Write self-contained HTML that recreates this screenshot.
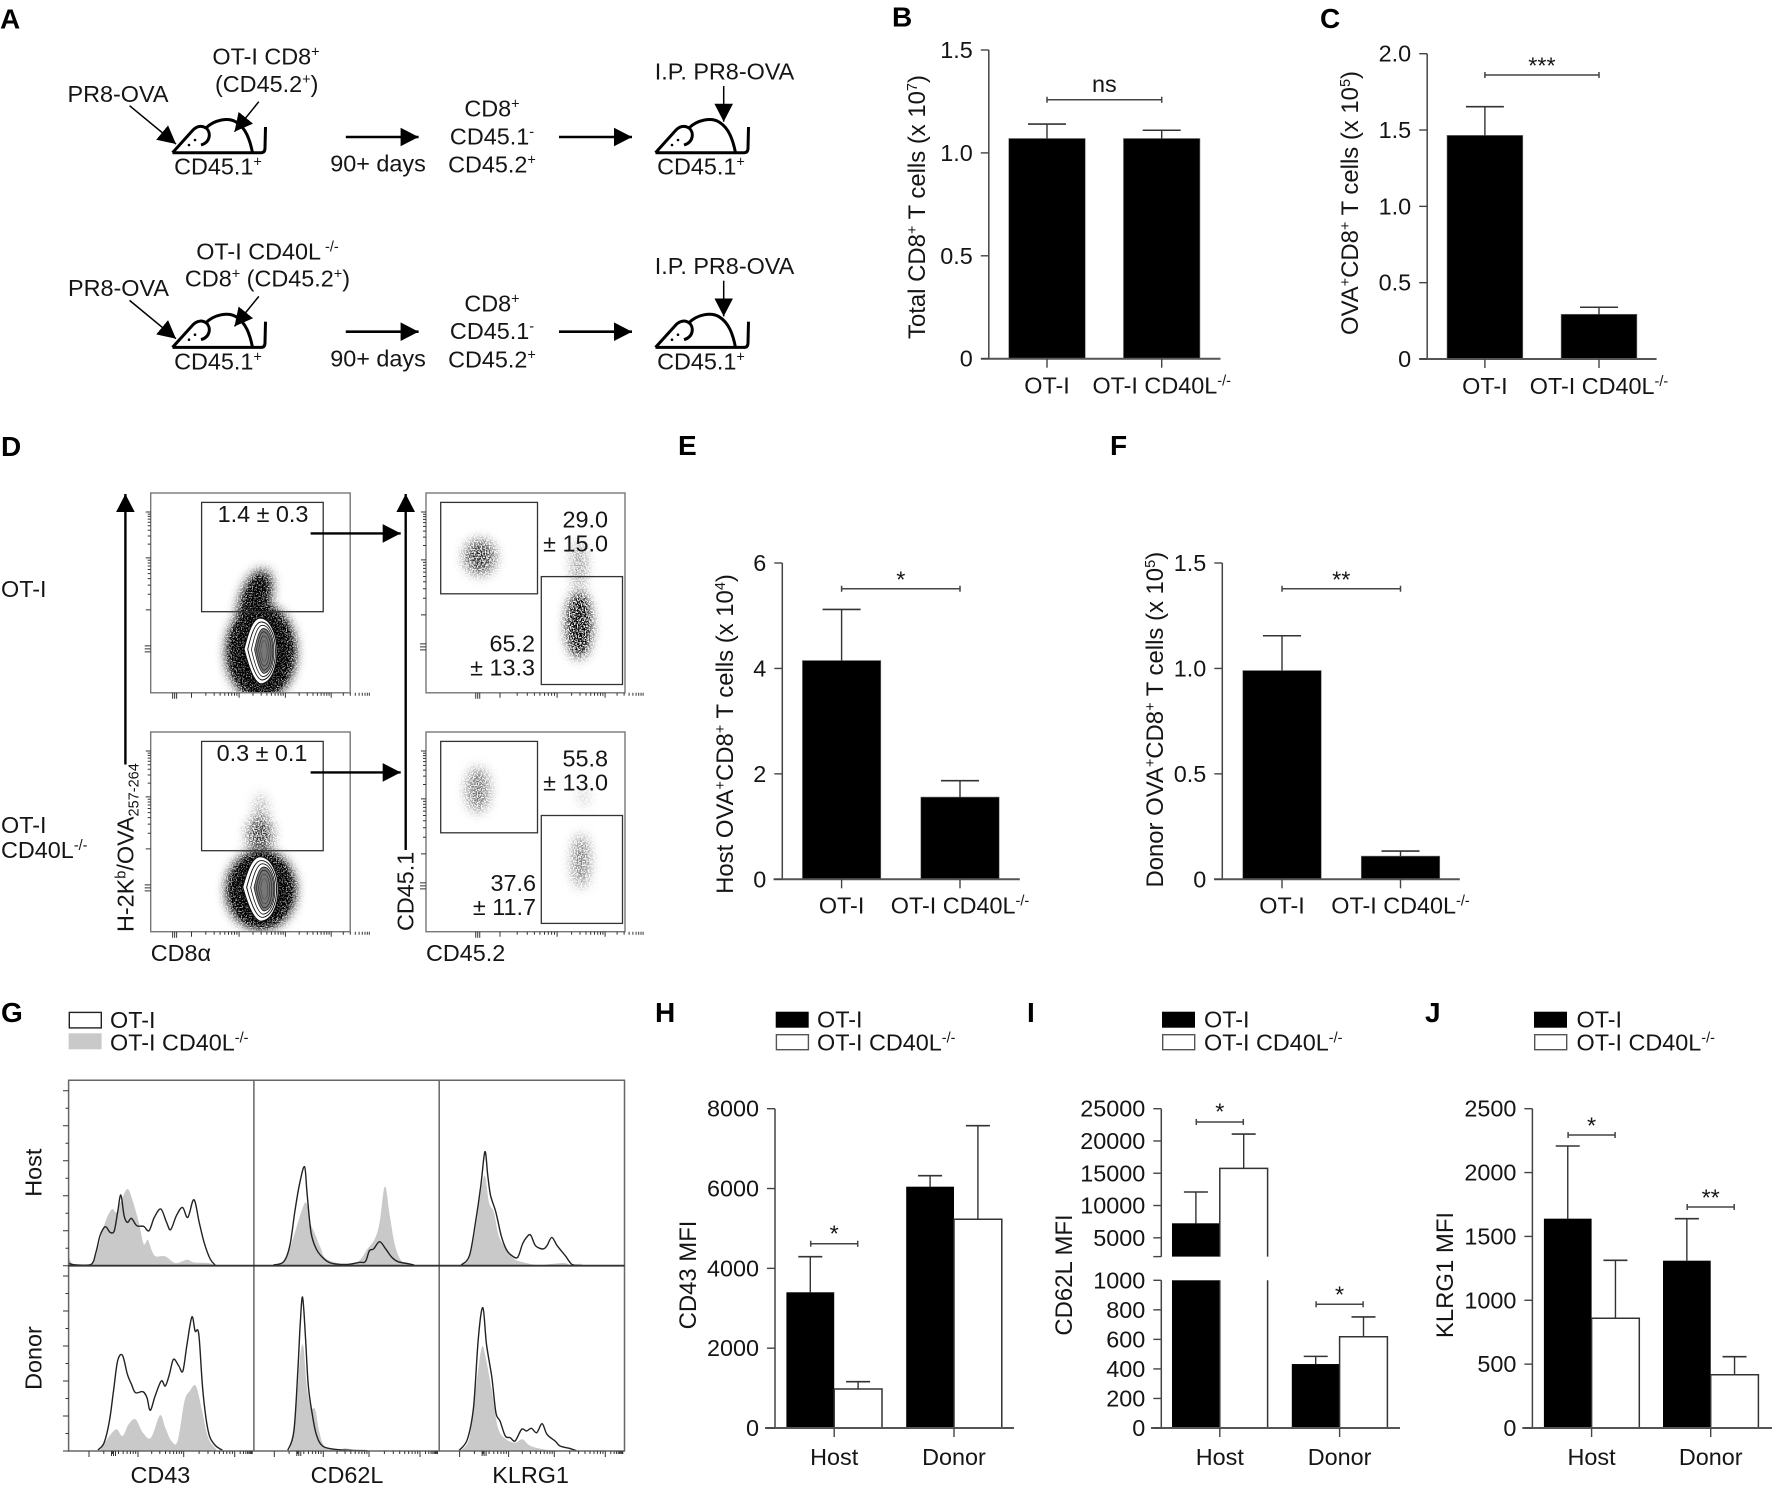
<!DOCTYPE html>
<html lang="en">
<head>
<meta charset="utf-8">
<title>OT-I versus OT-I CD40L-/- figure</title>
<style>
html,body{margin:0;padding:0;background:#fff;width:1772px;height:1490px;overflow:hidden}
svg{display:block}
text{font-family:"Liberation Sans",Arial,sans-serif;font-size:23.4px;fill:#151515}
.letter{font-size:28px;font-weight:700;fill:#000}
.m{text-anchor:middle}
.e{text-anchor:end}
.s{font-size:14.5px}
</style>
</head>
<body>
<svg id="figure" xmlns="http://www.w3.org/2000/svg" width="1772" height="1490" viewBox="0 0 1772 1490">
<defs>
  <marker id="head" markerUnits="userSpaceOnUse" markerWidth="20" markerHeight="22" refX="18" refY="10" orient="auto">
    <path d="M0,0.7 L18,10 L0,19.3 Z" fill="#000"/>
  </marker>
  <filter id="grain" x="-40%" y="-40%" width="180%" height="180%">
    <feGaussianBlur in="SourceGraphic" stdDeviation="6" result="b"/>
    <feTurbulence type="fractalNoise" baseFrequency="0.8" numOctaves="2" seed="4" result="n"/>
    <feColorMatrix in="n" type="matrix" values="0 0 0 0 0  0 0 0 0 0  0 0 0 0 0  0 0 0 5 -1.8" result="k"/>
    <feComposite in="b" in2="k" operator="arithmetic" k1="1.3" k2="0.42" k3="0" k4="0"/>
  </filter>
  <filter id="scatter" x="-60%" y="-60%" width="220%" height="220%">
    <feGaussianBlur in="SourceGraphic" stdDeviation="6" result="b"/>
    <feTurbulence type="fractalNoise" baseFrequency="0.75" numOctaves="2" seed="9" result="n"/>
    <feColorMatrix in="n" type="matrix" values="0 0 0 0 0  0 0 0 0 0  0 0 0 0 0  0 0 0 6 -2.4" result="k"/>
    <feComposite in="b" in2="k" operator="arithmetic" k1="1.45" k2="0.05" k3="0" k4="0"/>
  </filter>
  <clipPath id="clip-tl"><rect x="150.7" y="493" width="199.5" height="199.8"/></clipPath>
  <clipPath id="clip-bl"><rect x="150.7" y="732" width="199.5" height="199.7"/></clipPath>
  <g id="mouse">
    <path d="M172.5,152.7 L193,130 C198,125 203,126 206,128 C214,120 228,117 236,122 C246,128 250,140 252.5,152.7 M206,128 C211,132 211,142 201,145 M172.5,152.7 H261 Q265,152.7 265,148 L265.5,127" fill="none" stroke="#000" stroke-width="3" stroke-linejoin="round"/>
    <circle cx="189" cy="145" r="1.3" fill="#000"/><circle cx="195" cy="140" r="1.3" fill="#000"/>
  </g>
  <g id="contour-stack">
    <path id="contour" d="M-1,-33 C10,-33 16,-15 16,0 C16,18 10,32 0,33 C-8,32 -14,10 -17,-2 C-14,-14 -9,-33 -1,-33 Z" fill="#fff" stroke="#111" stroke-width="1.2"/>
    <g fill="none" stroke="#111" stroke-width="1.1">
      <path transform="translate(1,0) scale(.84,.88)" d="M-1,-33 C10,-33 16,-15 16,0 C16,18 10,32 0,33 C-8,32 -14,10 -17,-2 C-14,-14 -9,-33 -1,-33 Z"/>
      <path transform="translate(2,0) scale(.68,.78)" d="M-1,-33 C10,-33 16,-15 16,0 C16,18 10,32 0,33 C-8,32 -14,10 -17,-2 C-14,-14 -9,-33 -1,-33 Z"/>
      <path transform="translate(3,0) scale(.56,.68)" fill="#777" d="M-1,-33 C10,-33 16,-15 16,0 C16,18 10,32 0,33 C-8,32 -14,10 -17,-2 C-14,-14 -9,-33 -1,-33 Z"/>
      <path transform="translate(3,0) scale(.44,.58)" d="M-1,-33 C10,-33 16,-15 16,0 C16,18 10,32 0,33 C-8,32 -14,10 -17,-2 C-14,-14 -9,-33 -1,-33 Z"/>
      <path transform="translate(3,0) scale(.32,.46)" d="M-1,-33 C10,-33 16,-15 16,0 C16,18 10,32 0,33 C-8,32 -14,10 -17,-2 C-14,-14 -9,-33 -1,-33 Z"/>
      <path transform="translate(3,0) scale(.2,.32)" d="M-1,-33 C10,-33 16,-15 16,0 C16,18 10,32 0,33 C-8,32 -14,10 -17,-2 C-14,-14 -9,-33 -1,-33 Z"/>
    </g>
  </g>
</defs>

<g>
  <text class="letter" x="0" y="28.3">A</text>
  <text class="letter" x="892" y="26.5">B</text>
  <text class="letter" x="1320" y="28">C</text>
  <text class="letter" x="1" y="456">D</text>
  <text class="letter" x="678" y="455">E</text>
  <text class="letter" x="1110" y="455">F</text>
  <text class="letter" x="1" y="1022">G</text>
  <text class="letter" x="655" y="1022">H</text>
  <text class="letter" x="1027" y="1022">I</text>
  <text class="letter" x="1425" y="1022">J</text>
</g>

<!-- Panel A -->
<g>
  <g id="schema-common">
    <use href="#mouse"/>
    <use href="#mouse" transform="translate(483,0)"/>
    <g fill="none" stroke="#000">
      <path d="M127,109 L176,144" stroke-width="1.5" marker-end="url(#head)" transform="rotate(4 176 144)"/>
      <path d="M258.8,101.7 L234.5,131.7" stroke-width="1.5" marker-end="url(#head)"/>
      <path d="M345.8,137 H418.6" stroke-width="2.6" marker-end="url(#head)"/>
      <path d="M559,137 H632" stroke-width="2.6" marker-end="url(#head)"/>
      <path d="M723.7,86 V121.7" stroke-width="1.5" marker-end="url(#head)"/>
    </g>
    <text class="m" x="218" y="174.7">CD45.1<tspan class="s" dy="-8">+</tspan></text>
    <text class="m" x="378" y="171.7">90+ days</text>
    <text class="m" x="492" y="116.7">CD8<tspan class="s" dy="-8">+</tspan></text>
    <text class="m" x="492" y="144.3">CD45.1<tspan class="s" dy="-8">-</tspan></text>
    <text class="m" x="492" y="172.7">CD45.2<tspan class="s" dy="-8">+</tspan></text>
    <text class="m" x="724.5" y="79.3">I.P. PR8-OVA</text>
    <text class="m" x="701" y="174.7">CD45.1<tspan class="s" dy="-8">+</tspan></text>
  </g>
  <text class="m" x="266" y="64.7">OT-I CD8<tspan class="s" dy="-8">+</tspan></text>
  <text class="m" x="266.7" y="92">(CD45.2<tspan class="s" dy="-8">+</tspan><tspan dy="8">)</tspan></text>
  <text class="m" x="118" y="102">PR8-OVA</text>

  <g transform="translate(0,194.7)">
    <use href="#mouse"/>
    <use href="#mouse" transform="translate(483,0)"/>
    <g fill="none" stroke="#000">
      <path d="M127,109 L176,144" stroke-width="1.5" marker-end="url(#head)" transform="rotate(4 176 144)"/>
      <path d="M258.8,101.7 L234.5,131.7" stroke-width="1.5" marker-end="url(#head)"/>
      <path d="M345.8,137 H418.6" stroke-width="2.6" marker-end="url(#head)"/>
      <path d="M559,137 H632" stroke-width="2.6" marker-end="url(#head)"/>
      <path d="M723.7,86 V121.7" stroke-width="1.5" marker-end="url(#head)"/>
    </g>
    <text class="m" x="218" y="174.7">CD45.1<tspan class="s" dy="-8">+</tspan></text>
    <text class="m" x="378" y="171.7">90+ days</text>
    <text class="m" x="492" y="116.7">CD8<tspan class="s" dy="-8">+</tspan></text>
    <text class="m" x="492" y="144.3">CD45.1<tspan class="s" dy="-8">-</tspan></text>
    <text class="m" x="492" y="172.7">CD45.2<tspan class="s" dy="-8">+</tspan></text>
    <text class="m" x="724.5" y="79.3">I.P. PR8-OVA</text>
    <text class="m" x="701" y="174.7">CD45.1<tspan class="s" dy="-8">+</tspan></text>
  </g>
  <text class="m" x="267.5" y="259.3">OT-I CD40L<tspan class="s" dy="-8"> -/-</tspan></text>
  <text class="m" x="267.5" y="286.7">CD8<tspan class="s" dy="-8">+</tspan><tspan dy="8"> (CD45.2</tspan><tspan class="s" dy="-8">+</tspan><tspan dy="8">)</tspan></text>
  <text class="m" x="118.5" y="296">PR8-OVA</text>
</g>

<!-- Panel D -->
<g>
  <g clip-path="url(#clip-tl)">
    <g filter="url(#grain)">
      <ellipse cx="261" cy="652" rx="33" ry="46" fill="#000"/>
      <ellipse cx="255" cy="600" rx="13" ry="30" transform="rotate(18 255 600)" fill="#000" opacity=".9"/>
    </g>
    <use href="#contour-stack" transform="translate(261,651)"/>
  </g>
  <g clip-path="url(#clip-bl)">
    <g filter="url(#grain)">
      <ellipse cx="261" cy="890" rx="33" ry="38" fill="#000"/>
    </g>
    <g filter="url(#scatter)">
      <ellipse cx="260" cy="835" rx="12" ry="18" fill="#000" opacity=".6"/>
      <ellipse cx="261" cy="808" rx="5" ry="14" fill="#000" opacity=".3"/>
    </g>
    <use href="#contour-stack" transform="translate(261,889) scale(1.08,.98)"/>
  </g>
  <g filter="url(#scatter)">
    <ellipse cx="480" cy="557" rx="15" ry="17" fill="#000" opacity=".6"/>
    <ellipse cx="579" cy="625" rx="11" ry="32" fill="#000"/>
    <ellipse cx="579" cy="565" rx="7" ry="24" fill="#000" opacity=".32"/>
  </g>
  <g filter="url(#scatter)">
    <ellipse cx="478" cy="790" rx="11" ry="22" fill="#000" opacity=".42"/>
    <ellipse cx="581" cy="861" rx="8" ry="26" fill="#000" opacity=".42"/>
    <ellipse cx="584" cy="797" rx="5" ry="9" fill="#000" opacity=".18"/>
  </g>
  <g fill="none" stroke="#777" stroke-width="1.4">
    <rect x="150.7" y="493" width="199.5" height="199.8"/>
    <rect x="150.7" y="732" width="199.5" height="199.7"/>
    <rect x="426" y="493" width="199" height="199.8"/>
    <rect x="426" y="732" width="199" height="199.7"/>
  </g>
  <g fill="none" stroke="#333" stroke-width="1.3">
    <rect x="201.6" y="502.4" width="121.6" height="109.3"/>
    <rect x="201.6" y="741.4" width="121.6" height="109.3"/>
    <rect x="440.7" y="502.4" width="96.8" height="91.4"/>
    <rect x="541.3" y="576.6" width="81.2" height="107.9"/>
    <rect x="440.7" y="741.4" width="96.8" height="91.4"/>
    <rect x="541.3" y="815.5" width="81.2" height="107.9"/>
  </g>
  <g id="flow-ticks"></g>
  <g fill="none" stroke="#000" stroke-width="2.4">
    <path d="M125.4,764.5 V494" marker-end="url(#head)"/>
    <path d="M405.7,850 V494" marker-end="url(#head)"/>
    <path d="M310.6,533.4 H400.7" marker-end="url(#head)"/>
    <path d="M310.6,772.4 H400.7" marker-end="url(#head)"/>
  </g>
  <text class="m" x="263" y="522">1.4 ± 0.3</text>
  <text class="m" x="262" y="761">0.3 ± 0.1</text>
  <text class="e" x="608" y="527.5">29.0</text>
  <text class="e" x="608" y="551.3">± 15.0</text>
  <text class="e" x="535" y="651.3">65.2</text>
  <text class="e" x="535" y="675.5">± 13.3</text>
  <text class="e" x="608" y="766.5">55.8</text>
  <text class="e" x="608" y="790.3">± 13.0</text>
  <text class="e" x="536" y="891">37.6</text>
  <text class="e" x="536" y="915">± 11.7</text>
  <text x="1" y="597">OT-I</text>
  <text x="1" y="833">OT-I</text>
  <text x="1" y="858">CD40L<tspan class="s" dy="-8">-/-</tspan></text>
  <text transform="translate(133.5,932) rotate(-90)">H-2K<tspan class="s" dy="-8">b</tspan><tspan dy="8">/OVA</tspan><tspan class="s" dy="5">257-264</tspan></text>
  <text transform="translate(413.5,931) rotate(-90)">CD45.1</text>
  <text x="150.7" y="961">CD8α</text>
  <text x="426" y="961">CD45.2</text>
</g>

<!-- Panel G labels -->
<g>
  <rect x="69.3" y="1012.4" width="32" height="15.5" fill="#fff" stroke="#222" stroke-width="1.4"/>
  <rect x="68.6" y="1033.3" width="33" height="16" fill="#c9c9c9"/>
  <text x="110" y="1028">OT-I</text>
  <text x="110" y="1050.7">OT-I CD40L<tspan class="s" dy="-8">-/-</tspan></text>
  <text class="m" transform="translate(41.5,1172.7) rotate(-90)">Host</text>
  <text class="m" transform="translate(41.5,1358) rotate(-90)">Donor</text>
  <text class="m" x="160.4" y="1483">CD43</text>
  <text class="m" x="347" y="1483">CD62L</text>
  <text class="m" x="530.6" y="1483">KLRG1</text>
</g>
<g id="panel-g"></g>

<!-- Legends H I J -->
<g>
  <rect x="775.7" y="1011.7" width="33" height="16" fill="#000"/>
  <rect x="776.4" y="1034.7" width="32" height="15" fill="#fff" stroke="#555" stroke-width="1.4"/>
  <text x="817" y="1027.5">OT-I</text>
  <text x="817" y="1050.7">OT-I CD40L<tspan class="s" dy="-8">-/-</tspan></text>
</g>
<g>
  <rect x="1162" y="1011.7" width="33" height="16" fill="#000"/>
  <rect x="1162.7" y="1034.7" width="32" height="15" fill="#fff" stroke="#555" stroke-width="1.4"/>
  <text x="1204" y="1027.5">OT-I</text>
  <text x="1204" y="1050.7">OT-I CD40L<tspan class="s" dy="-8">-/-</tspan></text>
</g>
<g>
  <rect x="1534" y="1011.7" width="33" height="16" fill="#000"/>
  <rect x="1534.7" y="1034.7" width="32" height="15" fill="#fff" stroke="#555" stroke-width="1.4"/>
  <text x="1576.5" y="1027.5">OT-I</text>
  <text x="1576.5" y="1050.7">OT-I CD40L<tspan class="s" dy="-8">-/-</tspan></text>
</g>

<g id="panel-b"></g>
<g id="panel-c"></g>
<g id="panel-e"></g>
<g id="panel-f"></g>
<g id="panel-h"></g>
<g id="panel-i"></g>
<g id="panel-j"></g>
</svg>

<script>
/* ---------- Two-bar panels ---------- */
const pairCategories = ['OT-I', 'OT-I CD40L^-/-^'];

const bValues = [1.07, 1.07];
const bErrorTops = [1.14, 1.11];
const bTicks = [0, 0.5, 1.0, 1.5];
const bTickLabels = ['0', '0.5', '1.0', '1.5'];

const cValues = [1.465, 0.293];
const cErrorTops = [1.653, 0.339];
const cTicks = [0, 0.5, 1.0, 1.5, 2.0];
const cTickLabels = ['0', '0.5', '1.0', '1.5', '2.0'];

const eValues = [4.15, 1.56];
const eErrorTops = [5.12, 1.87];
const eTicks = [0, 2, 4, 6];
const eTickLabels = ['0', '2', '4', '6'];

const fValues = [0.99, 0.11];
const fErrorTops = [1.155, 0.134];
const fTicks = [0, 0.5, 1.0, 1.5];
const fTickLabels = ['0', '0.5', '1.0', '1.5'];

/* ---------- Grouped panels ---------- */
const groupCategories = ['Host', 'Donor'];

const hOtI = [3400, 6046];
const hOtIErrorTops = [4292, 6322];
const hCd40l = [977, 5230];
const hCd40lErrorTops = [1160, 7575];
const hTicks = [0, 2000, 4000, 6000, 8000];
const hTickLabels = ['0', '2000', '4000', '6000', '8000'];

const iOtI = [7245, 433];
const iOtIErrorTops = [12095, 485];
const iCd40l = [15760, 618];
const iCd40lErrorTops = [21070, 752];
const iTicks = [0, 200, 400, 600, 800, 1000, 2085, 5000, 10000, 15000, 20000, 25000];
const iTickLabels = ['0', '200', '400', '600', '800', '1000', '', '5000', '10000', '15000', '20000', '25000'];

const jOtI = [1639, 1310];
const jOtIErrorTops = [2208, 1639];
const jCd40l = [859, 417];
const jCd40lErrorTops = [1313, 558];
const jTicks = [0, 500, 1000, 1500, 2000, 2500];
const jTickLabels = ['0', '500', '1000', '1500', '2000', '2500'];

/* ---------- Histograms (channel 0-454, counts 0-556) ---------- */
const histColumnNames = ['cd43', 'cd62l', 'klrg1'];
const histRowNames = ['host', 'donor'];

const hostCd43LineX = [0,12,54,67,77,90,102,112,120,128,136,144,154,167,184,197,210,226,240,250,264,279,292,307,320,332,347,359];
const hostCd43LineY = [8,3,3,40,90,117,100,105,160,212,150,130,142,120,118,105,145,170,130,108,150,175,145,198,130,70,20,2];
const hostCd43FillX = [0,12,54,67,82,94,107,117,127,144,157,172,184,194,204,214,237,262,290,307,342,357];
const hostCd43FillY = [30,5,3,30,100,145,170,160,190,230,195,130,65,78,45,28,28,8,18,10,8,2];

const hostCd62lLineX = [48,73,88,100,111,124,130,140,153,168,188,228,258,273,283,293,308,323,338,353,378,393];
const hostCd62lLineY = [2,12,60,160,240,297,220,100,50,25,8,4,10,12,45,50,72,50,25,12,6,2];
const hostCd62lFillX = [58,78,98,113,128,138,148,163,178,228,258,278,296,308,321,333,346,363,388];
const hostCd62lFillY = [2,20,90,150,190,130,100,55,20,3,15,50,80,130,238,150,60,12,2];

const hostKlrg1LineX = [54,74,89,102,112,119,126,139,152,164,176,192,204,214,224,236,254,264,276,289,309,324,339];
const hostKlrg1LineY = [2,30,130,240,342,270,210,160,90,50,32,25,65,85,92,60,50,60,85,60,30,5,1];
const hostKlrg1FillX = [54,74,89,102,112,122,134,146,164,184,214,244,304,324,344,354];
const hostKlrg1FillY = [3,25,110,220,270,190,160,90,50,20,8,2,8,1,6,1];

const donorCd43LineX = [72,87,100,110,120,132,144,154,164,182,192,200,212,227,237,247,257,270,280,290,302,310,319,329,342,357,377];
const donorCd43LineY = [3,25,90,180,270,287,230,200,175,178,160,122,165,210,195,230,275,255,240,320,402,360,350,180,60,20,2];
const donorCd43FillX = [77,97,117,132,147,164,182,202,224,237,252,267,284,297,312,327,342,362];
const donorCd43FillY = [2,40,65,45,80,95,55,40,107,70,30,30,150,180,195,120,40,5];

const donorCd62lLineX = [83,98,108,113,119,126,133,143,153,168,198,238,278];
const donorCd62lLineY = [2,60,250,370,462,350,200,110,50,15,5,2,1];
const donorCd62lFillX = [88,103,113,121,130,140,150,160,173,208,223,248];
const donorCd62lFillY = [2,120,280,315,190,130,125,60,15,3,8,2];

const donorKlrg1LineX = [49,69,84,96,107,116,129,139,149,162,174,186,202,214,226,239,252,264,284,296,319,336];
const donorKlrg1LineY = [2,35,130,340,430,320,220,115,90,45,40,30,65,60,68,55,82,50,30,15,8,1];
const donorKlrg1FillX = [54,74,89,104,114,129,144,164,186,204,224,264,284];
const donorKlrg1FillY = [2,40,180,310,280,180,70,35,25,35,15,3,1];

/* ---------- Helpers ---------- */
const NS = 'http://www.w3.org/2000/svg';
function mk(tag, attrs, parent) {
  const el = document.createElementNS(NS, tag);
  for (const k in attrs) el.setAttribute(k, attrs[k]);
  parent.appendChild(el);
  return el;
}
function rich(el, str) {
  const parts = str.split('^');
  let raised = false;
  parts.forEach(function (p, i) {
    if (p === '') { return; }
    const t = document.createElementNS(NS, 'tspan');
    t.textContent = p;
    if (i % 2 === 1) {
      t.setAttribute('class', 's');
      t.setAttribute('dy', '-8');
      raised = true;
    } else if (raised) {
      t.setAttribute('dy', '8');
      raised = false;
    }
    el.appendChild(t);
  });
}
function linearY(cfg) {
  return function (v) { return cfg.bottom - (v / cfg.max) * (cfg.bottom - cfg.top); };
}
const AXIS = '#444';

function drawAxis(g, cfg, yOf, ticks, labels, centers, cats) {
  const axisSegments = cfg.axisSegments || [[cfg.top, cfg.bottom]];
  axisSegments.forEach(function (seg) {
    const a = mk('line', {x1: cfg.axisX, x2: cfg.axisX, y1: seg[0], y2: seg[1], stroke: AXIS, 'stroke-width': 1.5}, g);
    
    
  });
  const xa = mk('line', {x1: cfg.xLeft, x2: cfg.xRight, y1: cfg.bottom, y2: cfg.bottom, stroke: '#555', 'stroke-width': 2}, g);
  
  
  ticks.forEach(function (t, i) {
    const y = yOf(t);
    const tk = mk('line', {x1: cfg.axisX - 8, x2: cfg.axisX, y1: y, y2: y, stroke: AXIS, 'stroke-width': 1.4}, g);
    
    
    if (labels[i] !== '') {
      const tl = mk('text', {x: cfg.axisX - 16, y: y + 8, class: 'e'}, g);
      tl.textContent = labels[i];
      
      
    }
  });
  centers.forEach(function (cx, i) {
    const tk = mk('line', {x1: cx, x2: cx, y1: cfg.bottom, y2: cfg.bottom + 9, stroke: AXIS, 'stroke-width': 1.4}, g);
    
    
    const tl = mk('text', {x: cx, y: cfg.bottom + cfg.labelDy, class: 'm'}, g);
    rich(tl, cats[i]);
    
    
  });
  const title = mk('text', {class: 'm', transform: 'translate(' + cfg.titleX + ',' + cfg.titleY + ') rotate(-90)', style: 'font-size:23.9px'}, g);
  rich(title, cfg.title);
  
  
}
function drawError(g, cx, yTop, yBar, cap) {
  const v = mk('line', {x1: cx, x2: cx, y1: yBar, y2: yTop, stroke: '#333', 'stroke-width': 1.4}, g);
  
  
  const c = mk('line', {x1: cx - cap / 2, x2: cx + cap / 2, y1: yTop, y2: yTop, stroke: '#333', 'stroke-width': 1.6}, g);
  
  
}
function drawSig(g, x1, x2, y, label, textY) {
  const b = mk('path', {d: 'M' + x1 + ',' + (y - 3) + ' V' + (y + 3) + ' M' + x1 + ',' + y + ' H' + x2 + ' M' + x2 + ',' + (y - 3) + ' V' + (y + 3), fill: 'none', stroke: '#444', 'stroke-width': 1.5}, g);
  
  
  const t = mk('text', {x: (x1 + x2) / 2, y: textY, class: 'm'}, g);
  t.textContent = label;
  
  
}
function drawPair(id, cfg, values, errorTops, ticks, labels) {
  const g = document.getElementById(id);
  const yOf = linearY(cfg);
  const centers = pairCategories.map(function (c, i) { return cfg.x0 + i * cfg.step; });
  values.forEach(function (v, i) {
    const r = mk('rect', {x: centers[i] - cfg.barW / 2, y: yOf(v), width: cfg.barW, height: cfg.bottom - yOf(v), fill: '#000', stroke: '#777', 'stroke-width': 0.6}, g);
    
    
    drawError(g, centers[i], yOf(errorTops[i]), yOf(v), 38);
  });
  drawAxis(g, cfg, yOf, ticks, labels, centers, pairCategories);
  drawSig(g, centers[0], centers[1], cfg.sigY, cfg.sig, cfg.sigTextY);
}
function drawGrouped(id, cfg, yOf, a, aErr, b, bErr, ticks, labels) {
  const g = document.getElementById(id);
  const centers = groupCategories.map(function (c, i) { return cfg.x0 + i * cfg.step; });
  const segs = cfg.segments || [[0, cfg.max]];
  function bar(cx, v, black, name) {
    segs.forEach(function (s) {
      if (v <= s[0]) { return; }
      const hi = Math.min(v, s[1]);
      const yT = yOf(hi), yB = yOf(s[0]);
      const x0 = black ? cx - cfg.barW : cx, x1 = x0 + cfg.barW;
      if (black) {
        const r = mk('rect', {x: x0, y: yT, width: cfg.barW, height: yB - yT, fill: '#000'}, g);
        
        
      } else {
        const capTop = v <= s[1];
        const d = 'M' + x0 + ',' + yB + ' V' + yT + (capTop ? ' H' + x1 : ' M' + x1 + ',' + yT) + ' V' + yB;
        const r = mk('path', {d: d, fill: '#fff', stroke: '#333', 'stroke-width': 1.5}, g);
        
        
      }
    });
  }
  centers.forEach(function (cx, i) {
    drawError(g, cx - cfg.barW / 2, yOf(aErr[i]), yOf(a[i]), 24);
    drawError(g, cx + cfg.barW / 2, yOf(bErr[i]), yOf(b[i]), 24);
    bar(cx, a[i], true, 'bar-ot-i-' + groupCategories[i].toLowerCase());
    bar(cx, b[i], false, 'bar-cd40l-' + groupCategories[i].toLowerCase());
  });
  drawAxis(g, cfg, yOf, ticks, labels, centers, groupCategories);
  cfg.sigs.forEach(function (s) { drawSig(g, centers[s.group] - 23.5, centers[s.group] + 23.5, s.y, s.label, s.textY); });
}

/* ---------- Draw bar panels ---------- */
drawPair('panel-b', {axisX: 988.8, top: 50, bottom: 358.7, max: 1.5, xLeft: 981, xRight: 1220.5, x0: 1047, step: 114.7, barW: 76.5, labelDy: 35, titleX: 925, titleY: 207, title: 'Total CD8^+^ T cells (x 10^7^)', sig: 'ns', sigY: 99.7, sigTextY: 92}, bValues, bErrorTops, bTicks, bTickLabels);
drawPair('panel-c', {axisX: 1427.2, top: 53.7, bottom: 359, max: 2.0, xLeft: 1419.3, xRight: 1656.6, x0: 1484.9, step: 114.1, barW: 75.8, labelDy: 35, titleX: 1358, titleY: 203, title: 'OVA^+^CD8^+^ T cells (x 10^5^)', sig: '***', sigY: 75, sigTextY: 73.5}, cValues, cErrorTops, cTicks, cTickLabels);
drawPair('panel-e', {axisX: 782.3, top: 563, bottom: 879.3, max: 6, xLeft: 773.5, xRight: 1019.8, x0: 841.6, step: 118.4, barW: 78.4, labelDy: 34, titleX: 733, titleY: 734, title: 'Host OVA^+^CD8^+^ T cells (x 10^4^)', sig: '*', sigY: 588.7, sigTextY: 587.5}, eValues, eErrorTops, eTicks, eTickLabels);
drawPair('panel-f', {axisX: 1222.3, top: 563, bottom: 879.3, max: 1.5, xLeft: 1214, xRight: 1459.8, x0: 1282, step: 118.5, barW: 78.5, labelDy: 34, titleX: 1163, titleY: 719.7, title: 'Donor OVA^+^CD8^+^ T cells (x 10^5^)', sig: '**', sigY: 588.7, sigTextY: 587.5}, fValues, fErrorTops, fTicks, fTickLabels);

const hCfg = {axisX: 775, top: 1108.7, bottom: 1428, max: 8000, xLeft: 765, xRight: 1014, x0: 834.2, step: 119.8, barW: 47.8, labelDy: 37, titleX: 696, titleY: 1275, title: 'CD43 MFI', sigs: [{group: 0, y: 1243.7, label: '*', textY: 1241.5}]};
drawGrouped('panel-h', hCfg, linearY(hCfg), hOtI, hOtIErrorTops, hCd40l, hCd40lErrorTops, hTicks, hTickLabels);

const iCfg = {axisX: 1161.3, top: 1108.7, bottom: 1428, xLeft: 1151, xRight: 1400, x0: 1219.8, step: 119.8, barW: 47.8, labelDy: 37, titleX: 1072, titleY: 1275, title: 'CD62L MFI',
  axisSegments: [[1108.7, 1256.7], [1280.3, 1428]], segments: [[0, 1000], [2085, 30000]],
  sigs: [{group: 0, y: 1122, label: '*', textY: 1119.5}, {group: 1, y: 1304.3, label: '*', textY: 1302.5}]};
function iY(v) {
  if (v > 1000) { return 1237.8 - (v - 5000) * (1237.8 - 1108.7) / 20000; }
  return 1428 - v * (1428 - 1280.3) / 1000;
}
drawGrouped('panel-i', iCfg, iY, iOtI, iOtIErrorTops, iCd40l, iCd40lErrorTops, iTicks, iTickLabels);

const jCfg = {axisX: 1532.4, top: 1108.7, bottom: 1428, max: 2500, xLeft: 1522.3, xRight: 1772, x0: 1591.6, step: 119.1, barW: 47.7, labelDy: 37, titleX: 1453, titleY: 1275, title: 'KLRG1 MFI',
  sigs: [{group: 0, y: 1135, label: '*', textY: 1133.5}, {group: 1, y: 1207, label: '**', textY: 1205.5}]};
drawGrouped('panel-j', jCfg, linearY(jCfg), jOtI, jOtIErrorTops, jCd40l, jCd40lErrorTops, jTicks, jTickLabels);

/* ---------- Histograms ---------- */
const histLefts = [68.6, 253.9, 439.2];
const histBases = [1265.7, 1451];
const histW = 185.3, histH = 185.3;
const histSeries = [
  [[hostCd43LineX, hostCd43LineY, hostCd43FillX, hostCd43FillY], [hostCd62lLineX, hostCd62lLineY, hostCd62lFillX, hostCd62lFillY], [hostKlrg1LineX, hostKlrg1LineY, hostKlrg1FillX, hostKlrg1FillY]],
  [[donorCd43LineX, donorCd43LineY, donorCd43FillX, donorCd43FillY], [donorCd62lLineX, donorCd62lLineY, donorCd62lFillX, donorCd62lFillY], [donorKlrg1LineX, donorKlrg1LineY, donorKlrg1FillX, donorKlrg1FillY]]
];
const histDecades = [50, 170, 282, 407];
const histDense = 110;
const pG = document.getElementById('panel-g');
/* smooth Catmull-Rom path through the traced points */
function smooth(xs, ys, sx, sy, base) {
  const P = xs.map(function (x, i) { return [sx(x), sy(ys[i])]; });
  let d = P[0][0].toFixed(1) + ',' + P[0][1].toFixed(1);
  for (let i = 0; i < P.length - 1; i++) {
    const p0 = P[Math.max(0, i - 1)], p1 = P[i], p2 = P[i + 1], p3 = P[Math.min(P.length - 1, i + 2)];
    const c1x = p1[0] + (p2[0] - p0[0]) / 6, c1y = Math.min(base, p1[1] + (p2[1] - p0[1]) / 6);
    const c2x = p2[0] - (p3[0] - p1[0]) / 6, c2y = Math.min(base, p2[1] - (p3[1] - p1[1]) / 6);
    d += ' C' + c1x.toFixed(1) + ',' + c1y.toFixed(1) + ' ' + c2x.toFixed(1) + ',' + c2y.toFixed(1) + ' ' + p2[0].toFixed(1) + ',' + p2[1].toFixed(1);
  }
  return d;
}
histSeries.forEach(function (row, r) {
  row.forEach(function (s, c) {
    const sx = function (x) { return histLefts[c] + x / 454 * histW; };
    const sy = function (y) { return histBases[r] - y / 556 * histH; };
    const area = mk('path', {d: 'M' + sx(s[2][0]).toFixed(1) + ',' + histBases[r] + ' L' + smooth(s[2], s[3], sx, sy, histBases[r]) + ' L' + sx(s[2][s[2].length - 1]).toFixed(1) + ',' + histBases[r] + ' Z', fill: '#c9c9c9'}, pG);
    
    
    const line = mk('path', {d: 'M' + smooth(s[0], s[1], sx, sy, histBases[r]), fill: 'none', stroke: '#222', 'stroke-width': 1.4, 'stroke-linejoin': 'round'}, pG);
    
    
  });
});
const hFrame = mk('path', {d: 'M68.6,1080.3 H624.5 V1451 H68.6 Z M253.9,1080.3 V1451 M439.2,1080.3 V1451', fill: 'none', stroke: '#666', 'stroke-width': 1.5}, pG);


const hMid = mk('line', {x1: 68.6, x2: 624.5, y1: 1265.7, y2: 1265.7, stroke: '#333', 'stroke-width': 1.8}, pG);


let histTickPath = '';
histBases.forEach(function (base) {
  for (let k = 0; k <= 10; k++) {
    const y = base - k * 17.5;
    histTickPath += 'M' + (k % 2 === 0 ? 63 : 65.5) + ',' + y.toFixed(1) + ' H68.6 ';
  }
});
histLefts.forEach(function (left) {
  histDecades.forEach(function (d, i) {
    const x = left + d / 454 * histW;
    histTickPath += 'M' + x.toFixed(1) + ',1451 V1457 ';
    for (let m = 2; m < 10; m++) {
      const dx = Math.log10(m) * (i < histDecades.length - 1 ? (histDecades[i + 1] - d) : 45) / 454 * histW;
      histTickPath += 'M' + (x + dx).toFixed(1) + ',1451 V1454 ';
    }
  });
  const dx = left + histDense / 454 * histW;
  histTickPath += 'M' + (dx - 2) + ',1451 V1456 M' + dx + ',1451 V1456 M' + (dx + 2) + ',1451 V1456 ';
});
const hTicksEl = mk('path', {d: histTickPath, fill: 'none', stroke: '#333', 'stroke-width': 1}, pG);



/* ---------- Flow plot decoration ticks ---------- */
const flowG = document.getElementById('flow-ticks');
let flowPath = '';
function flowTicks(left, top, w, h, xDec, yDec, xDense, yDense) {
  const bottom = top + h;
  xDec.forEach(function (d, i) {
    const x = left + d * w;
    flowPath += 'M' + x.toFixed(1) + ',' + bottom + ' V' + (bottom + 5) + ' ';
    const step = (i < xDec.length - 1 ? xDec[i + 1] - d : 0.2) * w;
    for (let m = 2; m < 10; m++) {
      flowPath += 'M' + (x + Math.log10(m) * step).toFixed(1) + ',' + bottom + ' V' + (bottom + 3) + ' ';
    }
  });
  yDec.forEach(function (d, i) {
    const y = top + d * h;
    flowPath += 'M' + left + ',' + y.toFixed(1) + ' H' + (left - 5) + ' ';
    const step = (i > 0 ? d - yDec[i - 1] : 0) * h;
    for (let m = 2; m < 10; m++) {
      if (step) { flowPath += 'M' + left + ',' + (y - Math.log10(m) * step).toFixed(1) + ' H' + (left - 3) + ' '; }
    }
  });
  const dx = left + xDense * w, dy = top + yDense * h;
  flowPath += 'M' + (dx - 2) + ',' + bottom + ' V' + (bottom + 6) + ' M' + dx + ',' + bottom + ' V' + (bottom + 6) + ' M' + (dx + 2) + ',' + bottom + ' V' + (bottom + 6) + ' ';
  flowPath += 'M' + left + ',' + (dy - 3) + ' H' + (left - 6) + ' M' + left + ',' + dy + ' H' + (left - 6) + ' M' + left + ',' + (dy + 3) + ' H' + (left - 6) + ' ';
}
const flowLeftXDecades = [0.2045, 0.443, 0.675, 0.905];
const flowLeftYDecades = [0.095, 0.325, 0.585];
const flowRightXDecades = [0.372, 0.659, 0.9];
const flowRightYDecades = [0.095, 0.335, 0.61];
[493, 732].forEach(function (top) {
  flowTicks(150.7, top, 199.5, 199.8, flowLeftXDecades, flowLeftYDecades, 0.12, 0.78);
  flowTicks(426, top, 199, 199.8, flowRightXDecades, flowRightYDecades, 0.26, 0.77);
});
const flowEl = mk('path', {d: flowPath, fill: 'none', stroke: '#333', 'stroke-width': 1}, flowG);


</script>
</body>
</html>
